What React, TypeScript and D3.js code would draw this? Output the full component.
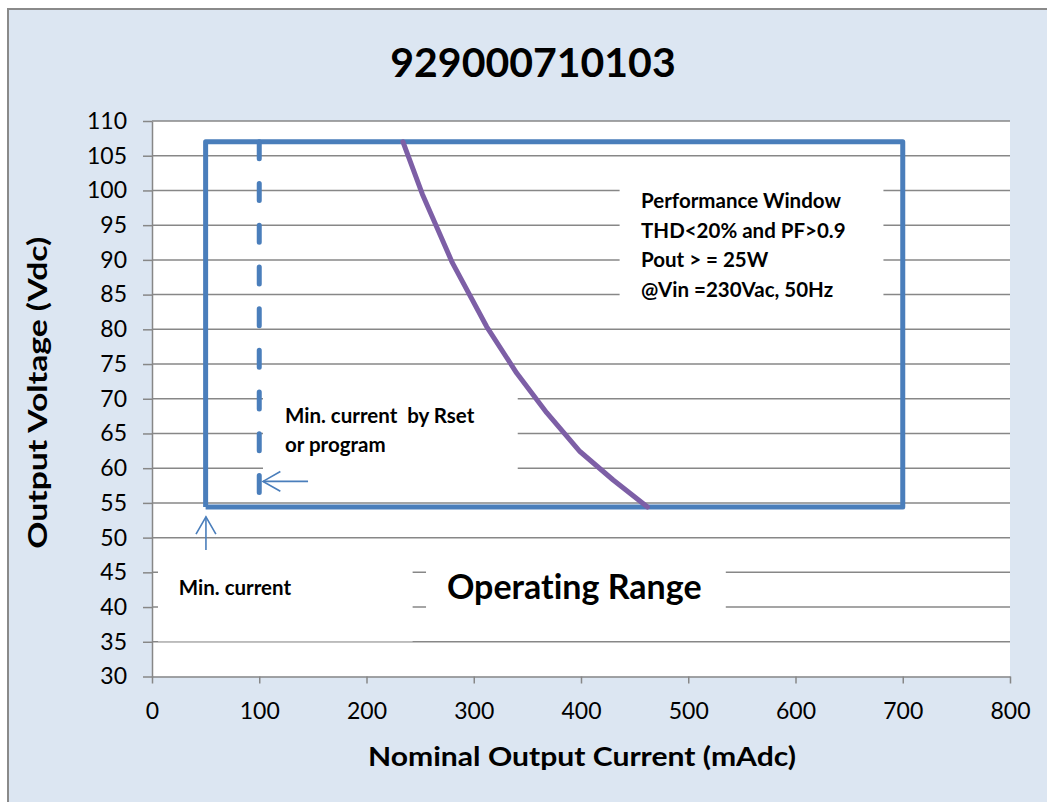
import * as d3 from "d3"
import { useEffect, useRef } from "react"

const TITLE = "929000710103"
const X_LABEL = "Nominal Output Current (mAdc)"
const Y_LABEL = "Output Voltage (Vdc)"

const X_TICKS = [0, 100, 200, 300, 400, 500, 600, 700, 800]
const Y_TICKS = [30, 35, 40, 45, 50, 55, 60, 65, 70, 75, 80, 85, 90, 95, 100, 105, 110]

// performance window outline (mA, V)
const WINDOW_CURRENT = [50, 50, 700, 700, 50]
const WINDOW_VOLTAGE = [54.4, 107, 107, 54.4, 54.4]

// min current set by Rset (dashed)
const RSET_CURRENT = [100, 100]
const RSET_VOLTAGE = [107, 55.8]

// Pout = 25W boundary
const POUT_CURRENT = [234, 252, 280, 312, 340, 368, 399, 430, 462]
const POUT_VOLTAGE = [107, 99.5, 89.6, 80.4, 73.7, 68, 62.4, 58.3, 54.4]

const PERF_LINES = [
  "Performance Window",
  "THD<20% and PF>0.9",
  "Pout > = 25W",
  "@Vin =230Vac, 50Hz",
]
const RSET_LINES = ["Min. current  by Rset", "or program"]
const MIN_LINES = ["Min. current"]
const RANGE_LINES = ["Operating Range"]

const W = 1047
const H = 802
const plot = { left: 152, right: 1010, top: 121, bottom: 676.5 }
const BLUE = "#4a7ebb"
const PURPLE = "#7d5fa6"
const GRID = "#878787"
const FONT = "Lato, 'Open Sans', sans-serif"

export default function App() {
  const ref = useRef<SVGSVGElement | null>(null)

  useEffect(() => {
    if (!ref.current) return
    const svg = d3.select(ref.current)
    svg.selectAll("*").remove()

    const x = d3.scaleLinear().domain([0, 800]).range([plot.left, plot.right])
    const y = d3.scaleLinear().domain([30, 110]).range([plot.bottom, plot.top])

    // chart area background + frame
    svg
      .append("rect")
      .attr("x", 8)
      .attr("y", 9)
      .attr("width", W + 40)
      .attr("height", H + 40)
      .attr("fill", "#dce6f2")
      .attr("stroke", "#8a8a8a")
      .attr("stroke-width", 2)

    svg
      .append("rect")
      .attr("x", plot.left)
      .attr("y", plot.top)
      .attr("width", plot.right - plot.left)
      .attr("height", plot.bottom - plot.top)
      .attr("fill", "#fff")

    // gridlines
    svg
      .append("g")
      .selectAll("line")
      .data(Y_TICKS.filter((d) => d > 30))
      .join("line")
      .attr("x1", plot.left)
      .attr("x2", plot.right)
      .attr("y1", (d) => y(d))
      .attr("y2", (d) => y(d))
      .attr("stroke", GRID)
      .attr("stroke-width", 1.5)

    // axes
    svg
      .append("g")
      .attr("transform", `translate(${plot.left},0)`)
      .call(d3.axisLeft(y).tickValues(Y_TICKS).tickSize(9).tickPadding(16).tickSizeOuter(0))
      .call((g) => g.select(".domain").attr("stroke", GRID).attr("stroke-width", 1.5))
      .call((g) => g.selectAll(".tick line").attr("stroke", GRID).attr("stroke-width", 1.5))
      .call((g) =>
        g.selectAll("text").attr("fill", "#000").attr("font-size", 23).attr("font-family", FONT),
      )

    svg
      .append("g")
      .attr("transform", `translate(0,${plot.bottom})`)
      .call(d3.axisBottom(x).tickValues(X_TICKS).tickSize(7).tickSizeOuter(0))
      .call((g) => g.select(".domain").attr("stroke", GRID).attr("stroke-width", 1.5))
      .call((g) => g.selectAll(".tick line").attr("stroke", GRID).attr("stroke-width", 1.5))
      .call((g) =>
        g
          .selectAll("text")
          .attr("y", 42)
          .attr("dy", 0)
          .attr("fill", "#000")
          .attr("font-size", 23)
          .attr("font-family", FONT),
      )

    // text boxes (white fill hides gridlines)
    const boxes = [
      { x0: 436, x1: 682, y0: 102.9, y1: 82.8, tx: 456, ty: 208, lh: 29.6, size: 20.5, lines: PERF_LINES },
      { x0: 103.5, x1: 341, y0: 72.7, y1: 57.6, tx: 124, ty: 423, lh: 29, size: 20.5, lines: RSET_LINES },
      { x0: 5.6, x1: 243, y0: 48.2, y1: 35.05, tx: 25, ty: 595, lh: 29, size: 20.5, lines: MIN_LINES },
      { x0: 255.5, x1: 535, y0: 47.5, y1: 35.6, tx: 275, ty: 599, lh: 0, size: 34, lines: RANGE_LINES },
    ]
    boxes.forEach((b) => {
      svg
        .append("rect")
        .attr("x", x(b.x0))
        .attr("y", y(b.y0))
        .attr("width", x(b.x1) - x(b.x0))
        .attr("height", y(b.y1) - y(b.y0))
        .attr("fill", "#fff")
      svg
        .append("text")
        .attr("font-family", FONT)
        .attr("font-weight", 700)
        .attr("font-size", b.size)
        .attr("fill", "#000")
        .style("font-variant-ligatures", "none")
        .selectAll("tspan")
        .data(b.lines)
        .join("tspan")
        .attr("x", x(b.tx))
        .attr("y", (_, i) => b.ty + i * b.lh)
        .style("white-space", "pre")
        .text((d) => d)
    })

    const line = d3
      .line<[number, number]>()
      .x((d) => x(d[0]))
      .y((d) => y(d[1]))

    svg
      .append("path")
      .attr("d", line(d3.zip(WINDOW_CURRENT, WINDOW_VOLTAGE) as [number, number][]))
      .attr("fill", "none")
      .attr("stroke", BLUE)
      .attr("stroke-width", 5)
      .attr("stroke-linejoin", "round")

    svg
      .append("path")
      .attr("d", line(d3.zip(RSET_CURRENT, RSET_VOLTAGE) as [number, number][]))
      .attr("fill", "none")
      .attr("stroke", BLUE)
      .attr("stroke-width", 5)
      .attr("stroke-linecap", "round")
      .attr("stroke-dasharray", "17 24.7")

    svg
      .append("path")
      .attr("d", line(d3.zip(POUT_CURRENT, POUT_VOLTAGE) as [number, number][]))
      .attr("fill", "none")
      .attr("stroke", PURPLE)
      .attr("stroke-width", 5)
      .attr("stroke-linejoin", "round")
      .attr("stroke-linecap", "round")

    // arrows
    const arrows = [
      { from: [145.5, 58.1], to: [103.5, 58.1] },
      { from: [50.3, 48.2], to: [50.3, 53.0] },
    ]
    arrows.forEach((a) => {
      const x1 = x(a.from[0])
      const y1 = y(a.from[1])
      const x2 = x(a.to[0])
      const y2 = y(a.to[1])
      const ang = Math.atan2(y2 - y1, x2 - x1)
      const len = 20
      const spread = 0.52
      const g = svg.append("g").attr("stroke", BLUE).attr("stroke-width", 1.6).attr("fill", "none")
      g.append("line").attr("x1", x1).attr("y1", y1).attr("x2", x2).attr("y2", y2)
      g.append("path").attr(
        "d",
        `M${x2 - len * Math.cos(ang - spread)},${y2 - len * Math.sin(ang - spread)}L${x2},${y2}L${
          x2 - len * Math.cos(ang + spread)
        },${y2 - len * Math.sin(ang + spread)}`,
      )
    })

    // titles
    svg
      .append("text")
      .attr("x", 533)
      .attr("y", 77)
      .attr("text-anchor", "middle")
      .attr("font-family", FONT)
      .attr("font-weight", 700)
      .attr("font-size", 41)
      .text(TITLE)

    svg
      .append("text")
      .attr("x", 582)
      .attr("y", 766)
      .attr("text-anchor", "middle")
      .attr("font-family", FONT)
      .attr("font-weight", 700)
      .attr("font-size", 27)
      .attr("textLength", 428)
      .attr("lengthAdjust", "spacingAndGlyphs")
      .text(X_LABEL)

    svg
      .append("text")
      .attr("transform", `translate(47,${(plot.top + plot.bottom) / 2 - 6}) rotate(-90)`)
      .attr("text-anchor", "middle")
      .attr("font-family", FONT)
      .attr("font-weight", 700)
      .attr("font-size", 26)
      .attr("textLength", 312)
      .attr("lengthAdjust", "spacingAndGlyphs")
      .text(Y_LABEL)
  }, [])

  return (
    <svg
      ref={ref}
      width={W}
      height={H}
      style={{ position: "absolute", left: 0, top: 0, display: "block" }}
    />
  )
}
